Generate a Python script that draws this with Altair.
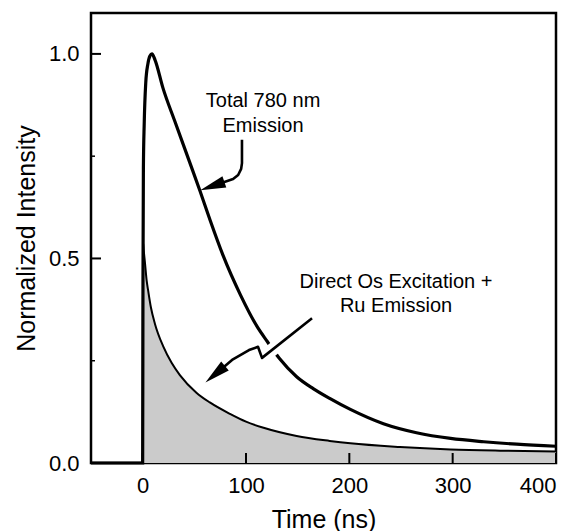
import altair as alt
import pandas as pd

# ---- data ----
total_t = [-50, 0, 0.3, 0.7, 1.5, 3, 5, 7, 9, 12, 19.6, 31.3, 45.8, 55.5, 65.2, 77.7, 94.6,
           111.1, 120.6, 132.2, 149, 165, 181, 201, 233, 265, 298, 330, 362, 400]
total_v = [0, 0, 0.45, 0.72, 0.83, 0.93, 0.975, 0.995, 1.0, 0.985, 0.917, 0.834, 0.733, 0.665,
           0.594, 0.508, 0.411, 0.332, 0.297, 0.256, 0.211, 0.182, 0.158, 0.131, 0.096,
           0.074, 0.060, 0.052, 0.046, 0.041]

lower_t = [-50, 0, 0.3, 1, 2.2, 3.9, 5.4, 8, 11.9, 19.9, 28, 36, 52, 65, 84.5, 100, 117, 149,
           181, 201, 249, 298, 346, 400]
lower_v = [0, 0, 0.54, 0.52, 0.49, 0.445, 0.42, 0.38, 0.34, 0.285, 0.245, 0.215, 0.172, 0.148,
           0.120, 0.101, 0.086, 0.066, 0.054, 0.048, 0.039, 0.033, 0.030, 0.028]

x_tick_values = [0, 100, 200, 300, 400]
y_major_ticks = [0.0, 0.5, 1.0]
y_minor_ticks = [0.25, 0.75]

label_text = ["Total 780 nm", "Emission", "Direct Os Excitation +", "Ru Emission"]
label_t = [116.5, 116.5, 245.2, 245.2]
label_v = [0.870, 0.809, 0.428, 0.369]

arrow_id = ["a1"] * 6 + ["a2"] * 6
arrow_t = [96.1, 96.1, 95.3, 92.4, 87.5, 72.0, 163.9, 115.5, 111.6, 102.9, 86.5, 74.0]
arrow_v = [0.790, 0.733, 0.719, 0.704, 0.694, 0.681, 0.354, 0.257, 0.284, 0.276, 0.252, 0.225]

halo_t = [163.9, 115.5]
halo_v = [0.354, 0.257]

head_t = [67.4, 70.2]
head_v = [0.677, 0.217]
head_angle = [251, 230]

# ---- chart ----
W, H = 465, 450
FONT = "Liberation Sans"

xs = alt.Scale(domain=[-50, 400], nice=False, zero=False)
ys = alt.Scale(domain=[0, 1.1], nice=False, zero=False)

x_axis = alt.Axis(values=x_tick_values, ticks=False, domain=False, grid=False,
                  labelFontSize=22, labelFont=FONT, labelColor="black", labelPadding=12,
                  title="Time (ns)", titleFont=FONT, titleFontSize=25, titleFontWeight="normal",
                  titleColor="black", titleY=64, titleBaseline="alphabetic")
y_axis = alt.Axis(values=y_major_ticks, format=".1f", ticks=False, domain=False, grid=False,
                  labelFontSize=22, labelFont=FONT, labelColor="black", labelPadding=12,
                  title="Normalized Intensity", titleFont=FONT, titleFontSize=25,
                  titleFontWeight="normal", titleColor="black", titleX=-57, titleY=H / 2,
                  titleBaseline="alphabetic")

X = alt.X("t:Q", scale=xs, axis=x_axis)
Y = alt.Y("v:Q", scale=ys, axis=y_axis)

total_df = pd.DataFrame({"t": total_t, "v": total_v, "i": range(len(total_t))})
lower_df = pd.DataFrame({"t": lower_t, "v": lower_v, "i": range(len(lower_t))})
area_df = lower_df[lower_df["t"] >= 0]

area = alt.Chart(area_df).mark_area(color="#cbcbcb", interpolate="monotone", opacity=1,
                                    strokeWidth=0).encode(
    x=X, y=alt.Y("v:Q", scale=ys, axis=y_axis, stack=None))
lower_line = alt.Chart(lower_df).mark_line(color="black", strokeWidth=2,
                                           interpolate="monotone").encode(x=X, y=Y, order="i:Q")
total_line = alt.Chart(total_df).mark_line(color="black", strokeWidth=3.2,
                                           interpolate="monotone").encode(x=X, y=Y, order="i:Q")

xt = alt.Chart(pd.DataFrame({"t": x_tick_values})).mark_rule(color="black", strokeWidth=2).encode(
    x=X, y=alt.value(H), y2=alt.value(H - 10))
ytm = alt.Chart(pd.DataFrame({"v": y_major_ticks})).mark_rule(color="black", strokeWidth=2).encode(
    y=Y, x=alt.value(0), x2=alt.value(10))
ytn = alt.Chart(pd.DataFrame({"v": y_minor_ticks})).mark_rule(color="black", strokeWidth=1.5).encode(
    y=Y, x=alt.value(0), x2=alt.value(4))

halo = alt.Chart(pd.DataFrame({"t": halo_t, "v": halo_v, "i": [0, 1]})).mark_line(
    color="white", strokeWidth=13, strokeCap="butt").encode(x=X, y=Y, order="i:Q")

arrows = alt.Chart(pd.DataFrame({"t": arrow_t, "v": arrow_v, "a": arrow_id,
                                 "i": range(len(arrow_t))})).mark_line(
    color="black", strokeWidth=2.6, strokeCap="butt", strokeJoin="round").encode(
    x=X, y=Y, detail="a:N", order="i:Q")

heads = alt.Chart(pd.DataFrame({"t": head_t, "v": head_v, "ang": head_angle})).mark_point(
    shape="M0,-1L0.46,1L-0.46,1Z", filled=True, size=650, color="black", opacity=1,
    strokeWidth=0).encode(x=X, y=Y, angle=alt.Angle("ang:Q", scale=None))

labels = alt.Chart(pd.DataFrame({"t": label_t, "v": label_v, "label": label_text})).mark_text(
    font=FONT, fontSize=20, color="black", align="center", baseline="alphabetic").encode(
    x=X, y=Y, text="label:N")

chart = alt.layer(area, lower_line, total_line, xt, ytm, ytn, halo, arrows, heads, labels).properties(
    width=W, height=H,
    autosize=alt.AutoSizeParams(type="none"),
    padding={"left": 91, "top": 13, "right": 18, "bottom": 68},
    background="white",
).configure_view(stroke="black", strokeWidth=2.5)

chart.save("out.html", embed_options={"renderer": "svg", "actions": False})
